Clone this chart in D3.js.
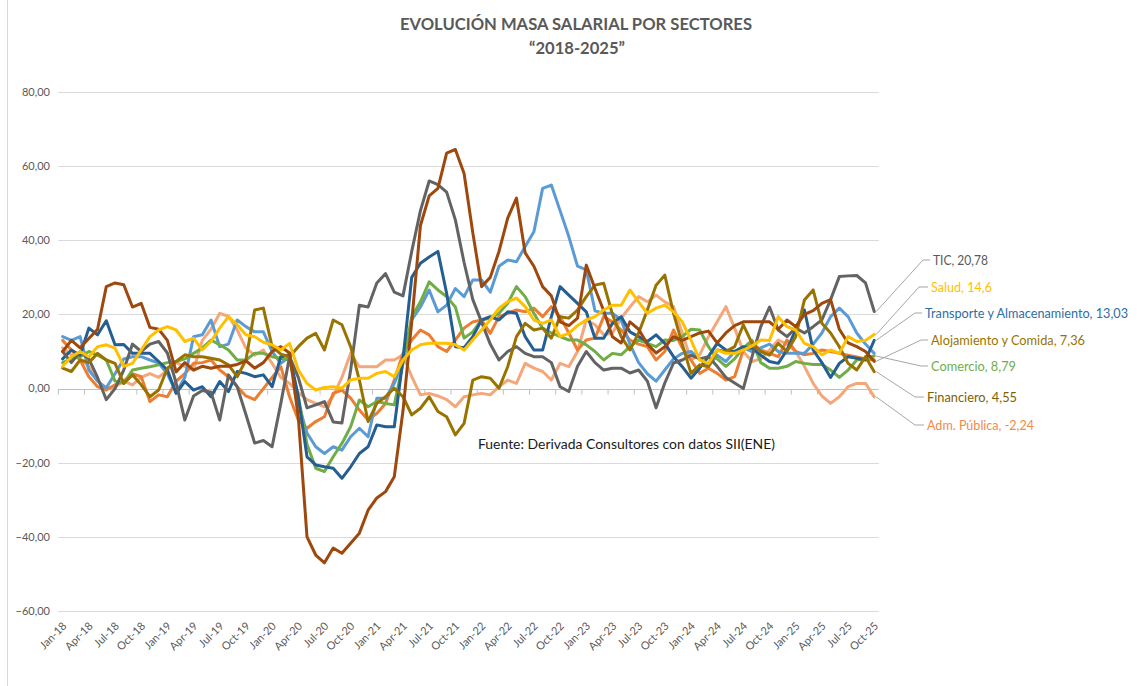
<!DOCTYPE html>
<html><head><meta charset="utf-8">
<script src="https://cdn.jsdelivr.net/npm/d3@7"></script>
<style>body{margin:0;background:#fff}svg{display:block}</style>
</head><body>
<svg id="chart" width="1137" height="686"></svg>
<script>
const categories = [
"Jan-18","Feb-18","Mar-18","Apr-18","May-18","Jun-18","Jul-18","Aug-18","Sep-18","Oct-18","Nov-18","Dec-18",
"Jan-19","Feb-19","Mar-19","Apr-19","May-19","Jun-19","Jul-19","Aug-19","Sep-19","Oct-19","Nov-19","Dec-19",
"Jan-20","Feb-20","Mar-20","Apr-20","May-20","Jun-20","Jul-20","Aug-20","Sep-20","Oct-20","Nov-20","Dec-20",
"Jan-21","Feb-21","Mar-21","Apr-21","May-21","Jun-21","Jul-21","Aug-21","Sep-21","Oct-21","Nov-21","Dec-21",
"Jan-22","Feb-22","Mar-22","Apr-22","May-22","Jun-22","Jul-22","Aug-22","Sep-22","Oct-22","Nov-22","Dec-22",
"Jan-23","Feb-23","Mar-23","Apr-23","May-23","Jun-23","Jul-23","Aug-23","Sep-23","Oct-23","Nov-23","Dec-23",
"Jan-24","Feb-24","Mar-24","Apr-24","May-24","Jun-24","Jul-24","Aug-24","Sep-24","Oct-24","Nov-24","Dec-24",
"Jan-25","Feb-25","Mar-25","Apr-25","May-25","Jun-25","Jul-25","Aug-25","Sep-25","Oct-25"];

const yTicks = [-60,-40,-20,0,20,40,60,80];

const tic = [10,7,10,8,3,-3,0,5,12,10,
12,12.7,9.6,1.5,-8.5,-2,-0.5,-1,-8.5,3.7,
0.5,-7,-14.7,-14,-15.7,-4,8.6,3,-5.2,-4.4,
-3.5,-9,-9.3,5,22.5,22,28.5,31,26,25,
37,48,56,55,53,45.5,34,24,18,12,
7.7,10,11.3,9.5,8.6,8.6,7,0.5,-0.8,6,
10,7,5,5.5,5.5,4.2,5,2,-5.2,1.5,
6.9,7.7,9,8,8.6,6,3,1.5,0,8.6,
16.7,22,15.8,14,16.3,15,16.7,18.5,24,30.2,
30.4,30.5,28.5,20.78];

const salud = [6,8.6,10,8.6,11.3,11.8,10.9,6,6.8,10.4,
14,15.8,16.7,15.8,12.7,13.6,10.4,12.7,16.3,19.4,
17.2,14.5,14,12.5,11.8,10.4,12.2,5,1.4,-0.4,
0.3,0.5,0.1,2.3,2.8,2.8,4.1,4.6,3.2,7.7,
10.4,11.8,12.2,12.2,12.2,11.8,10.4,13.1,15.8,18.5,
21.7,23.4,24.4,22.1,18.5,17.6,18.5,14,14.9,17,
18.5,19.4,21.2,22.5,22.5,26.6,23.4,20.3,21.7,22.5,
20.7,18,13.1,7.7,6.8,10.4,9.5,9.5,10.4,11.5,
13.1,13,19.4,16.7,15.8,12.2,11.3,9.1,10.4,9.5,
14,12.7,13,14.6];

const transporte = [8,10.4,9,16.3,14.5,18.3,11.8,11.9,9.5,9.5,
9.5,7.3,5,-1.3,1.9,-0.4,0.5,-2.2,1.9,-0.8,
4.6,4.1,3.2,3.7,0.5,8.6,9.1,-2.2,-18.4,-20.6,
-21.1,-21.5,-24.2,-21.1,-17.5,-15.7,-9.8,-10.3,-10.3,8,
30,33.8,35.5,37,25.7,11.3,11,14,18.5,19.4,
18.5,20.7,20.3,14,10.4,10.4,19.4,27.5,25.2,23,
20.7,13.6,13.6,17.6,19.4,15.3,14,12.7,14.5,12.2,
8.6,5.9,2.8,5.5,8.6,12.2,10.4,10,11.3,10.9,
9,7.3,6.8,10.4,16,21.2,10.4,7,3,6.8,
8.6,8.2,7.7,13.03];

const alojamiento = [10,13,11,13.5,16,27.5,28.5,28,22,23,
16.5,16,13,4.5,7,5,6,5.5,6,6,
6.5,7.5,5.5,7,10,11.3,9.6,-7.6,-40,-44.9,
-47,-43,-44.4,-41.7,-39,-32.8,-29.5,-27.8,-23.8,-6,
18,44,52,54,63.5,64.5,58,42,27.5,30,
37,46,51.4,36.6,33,27.5,25,18,17,19,
33.3,27,21,14,12.3,18,16,12,9.6,11.3,
14,13,14,15,15.5,12.3,15,17,18,18,
18,18,16,18.5,16.7,20,21,23,24,16,
12.3,11.3,10,7.36];

const comercio = [7,8,8.6,10,9,7.7,2,1.4,5,5.5,
5.9,6.4,7,7.3,8,9.5,10.9,13.1,11.8,10.4,
7.7,7.7,9.5,9.5,8.6,8.2,7.7,-2,-15,-21.5,
-22.4,-18.4,-14.8,-10.3,-3.1,-4.9,-3.5,-4,-4.4,6.8,
19.4,23.4,28.8,26.6,24.8,22,13.6,15.3,18.5,19,
20.3,23,27.5,24.8,20.3,16.3,15,14,13.1,13.1,
11.8,10,7.7,9.5,9.1,11.3,13.1,12.2,11.3,13.1,
13,14,16,15.8,11.3,8,6,8,11,13,
7,5.5,5.5,6,7.3,6.8,6.5,6.5,5,3,
5,7.7,8.2,8.79];

const financiero = [5.5,4.6,7.7,7,9.5,7.7,6.8,1.4,3.7,1,
-2.2,-0.4,5.5,7.3,9.1,8.6,8.6,8.2,7.7,6.4,
3.2,7.7,21.2,21.7,11.3,9.3,8.6,11.3,13.6,14.9,
10.4,18.5,17.2,11.3,2.3,-8.9,-4,-2.2,0.1,-2.2,
-7.1,-5.3,-2.2,-6.2,-7.6,-12.5,-9.4,2.3,3.2,2.8,
0.1,5.9,14,17.6,15.8,16.3,13.6,19.4,19,21.2,
24.8,27.9,28.4,20,14,10.4,15,21.2,27.9,30.6,
20.3,12,4.1,6.4,5.9,10.4,10,11.3,17.2,12.2,
10,9,12.2,10,14,23.9,26.6,17.6,15,11.3,
6.8,5,8.6,4.55];

const admPublica = [11,9,8,6,2,0,0.5,2,1,3,
4,3,5,7,6,5,13,16,20.3,19.5,
15.8,10.9,9,10.4,6.8,3,1.4,-1,-3,-4,
-4.9,-2,3,9.5,5.9,5.9,5.9,7.7,7.7,9.1,
3.2,-1.7,-1.3,-2,-3,-4.9,-2.2,-1.7,-1.3,-1.7,
0.5,2.3,1.4,6.8,5.5,4.6,2.3,6.8,5.9,10,
18.5,17.2,14.5,15,19,22,24.8,23.4,25.2,23.4,
22.1,15,7.7,9.1,14,18,22.1,16.3,10,7.3,
8,10.4,13.1,12,10,6,1.4,-2,-4,-2.2,
0.5,1.4,1.4,-2.24];

const serieNaranja = [13,10.4,7.7,3.2,0.5,-0.4,1,2,4,3.2,
-3.5,-1.7,-2.2,2,4,6.8,7,7.7,5,3.2,
0.5,-2,-3,0,3,5.9,-2.2,-8.5,-10.7,-8.9,
-7.6,-1.3,-0.4,-2.6,-5.8,-8.5,-6.7,-4,2.3,9.5,
13.1,15.8,14.5,11.3,10,13.1,16.3,18,18.5,14.9,
19.4,20.3,21.2,20.7,21.7,19.4,22.1,19.4,15,10.4,
13.1,13.6,19.4,18,15.8,13.1,12,11.3,7.7,10,
15.8,11,7.7,4.1,5.5,4.1,2.3,3.2,10.4,12.2,
10.4,9.5,8.6,13.1,10,9.1,9.5,10.4,10,9.5,
9,8.5,8,7.7];

const serieCeleste = [14,13,14,5,2,0.2,4,8,8.6,8.6,
7.7,6.9,4,-1,3,14,14.5,18.5,11.3,12,
18.5,16.7,15.3,15.3,10,6.8,8.6,-4,-12,-15.7,
-17.5,-15.7,-16.6,-13,-10.7,-13,-2.6,-2.6,1.4,7,
18.5,22,26.6,20.7,22.5,27,24.8,29.3,29.3,26,
33,34.7,34.2,38.3,42.3,54,54.9,48,41,33,
32,21,20.3,20.3,18.5,12,7,4,2,5,
8,9.5,10,8,6,9,7.3,10,11,10,
11,12,10,9.5,9.5,9.5,12,15,19.4,21.7,
19.4,15,12,9.5];

// drawing order (later on top)
const series = [
  {name:"Adm. Pública", values:admPublica, color:"#F4A77A", label:true, labelColor:"#F08A4B"},
  {name:"Serie naranja", values:serieNaranja, color:"#ED7D31", label:false},
  {name:"Serie celeste", values:serieCeleste, color:"#5B9BD5", label:false},
  {name:"Comercio", values:comercio, color:"#70AD47", label:true, labelColor:"#70AD47"},
  {name:"Transporte y Almacenamiento", values:transporte, color:"#255E91", label:true, labelColor:"#2E6DA4"},
  {name:"TIC", values:tic, color:"#636363", label:true, labelColor:"#595959"},
  {name:"Financiero", values:financiero, color:"#997300", label:true, labelColor:"#7F6000"},
  {name:"Alojamiento y Comida", values:alojamiento, color:"#9E480E", label:true, labelColor:"#997300"},
  {name:"Salud", values:salud, color:"#FFC000", label:true, labelColor:"#FFC000"}
];

// label layout (positions only)
const labelLayout = {
  "TIC": {x:933, y:260, ex:923, w:55},
  "Salud": {x:931, y:287, ex:919, w:61},
  "Transporte y Almacenamiento": {x:925, y:313, ex:915, w:203},
  "Alojamiento y Comida": {x:931, y:340, ex:921, w:154},
  "Comercio": {x:931, y:366, ex:921, w:85},
  "Financiero": {x:927, y:397, ex:915, w:90},
  "Adm. Pública": {x:927, y:425, ex:915, w:107}
};

const svg = d3.select("#chart");
const FONT = "Lato, 'Open Sans', sans-serif";

const x = d3.scalePoint().domain(categories).range([58.3, 878.6]).padding(0.5);
const y = d3.scaleLinear().domain([-60, 80]).range([611, 92]);
const step = x.step();

// left border line
svg.append("line").attr("x1",7.5).attr("x2",7.5).attr("y1",0).attr("y2",686)
  .attr("stroke","#D9D9D9").attr("stroke-width",1);

// gridlines
svg.append("g").selectAll("line").data(yTicks.filter(d=>d!==0)).join("line")
  .attr("x1",58.3).attr("x2",878.6)
  .attr("y1",d=>Math.round(y(d))+0.5).attr("y2",d=>Math.round(y(d))+0.5)
  .attr("stroke","#D9D9D9").attr("stroke-width",1);

// y labels
const fmt = v => d3.format(".2f")(v).replace(".", ",");
svg.append("g").selectAll("text").data(yTicks).join("text")
  .attr("x",50).attr("y",d=>y(d)).attr("dy","0.35em")
  .attr("text-anchor","end").attr("font-family",FONT).attr("font-size",11)
  .attr("fill","#595959").text(d=>fmt(d));

// zero axis
const y0 = Math.round(y(0))+0.5;
svg.append("line").attr("x1",58.3).attr("x2",878.6).attr("y1",y0).attr("y2",y0)
  .attr("stroke","#BFBFBF").attr("stroke-width",1);
const tickCats = categories.filter((d,i)=>i%3===0);
svg.append("g").selectAll("line").data(tickCats).join("line")
  .attr("x1",d=>x(d)-step/2).attr("x2",d=>x(d)-step/2)
  .attr("y1",y0).attr("y2",y0+5)
  .attr("stroke","#BFBFBF").attr("stroke-width",1);

// x labels
svg.append("g").selectAll("text").data(tickCats).join("text")
  .attr("transform",d=>`translate(${x(d)+2},${624}) rotate(-45)`)
  .attr("text-anchor","end").attr("dy","0.35em")
  .attr("font-family",FONT).attr("font-size",11).attr("fill","#595959")
  .text(d=>d);

// lines
const line = d3.line().x((d,i)=>x(categories[i])).y(d=>y(d));
svg.append("g").selectAll("path").data(series).join("path")
  .attr("d",s=>line(s.values)).attr("fill","none")
  .attr("stroke",s=>s.color).attr("stroke-width",3)
  .attr("stroke-linejoin","round").attr("stroke-linecap","round");

// leader lines + labels
const lastCat = categories[categories.length-1];
const labeled = series.filter(s=>s.label);
const lg = svg.append("g");
labeled.forEach(s=>{
  const L = labelLayout[s.name];
  const v = s.values[s.values.length-1];
  const px = x(lastCat), py = y(v);
  lg.append("polyline")
    .attr("points",`${px+2},${py} ${L.ex},${L.y} ${L.x-3},${L.y}`)
    .attr("fill","none").attr("stroke","#A6A6A6").attr("stroke-width",1);
  lg.append("text").attr("x",L.x).attr("y",L.y).attr("dy","0.35em")
    .attr("font-family",FONT).attr("font-size",13).attr("fill",s.labelColor)
    .attr("textLength",L.w).attr("lengthAdjust","spacingAndGlyphs")
    .text(`${s.name}, ${String(v).replace(".", ",")}`);
});

// title
svg.append("text").attr("x",576).attr("y",24).attr("dy","0.35em")
  .attr("text-anchor","middle").attr("font-family",FONT).attr("font-weight","bold")
  .attr("font-size",17).attr("fill","#595959")
  .attr("textLength",352).attr("lengthAdjust","spacingAndGlyphs")
  .text("EVOLUCIÓN MASA SALARIAL POR SECTORES");
svg.append("text").attr("x",577).attr("y",48).attr("dy","0.35em")
  .attr("text-anchor","middle").attr("font-family",FONT).attr("font-weight","bold")
  .attr("font-size",17).attr("fill","#595959")
  .attr("textLength",96).attr("lengthAdjust","spacingAndGlyphs")
  .text("“2018-2025”");

// source
svg.append("text").attr("x",478).attr("y",444).attr("dy","0.35em")
  .attr("font-family",FONT).attr("font-size",13.5).attr("fill","#1a1a1a")
  .attr("textLength",297).attr("lengthAdjust","spacingAndGlyphs")
  .text("Fuente: Derivada Consultores con datos SII(ENE)");
</script>
</body></html>
